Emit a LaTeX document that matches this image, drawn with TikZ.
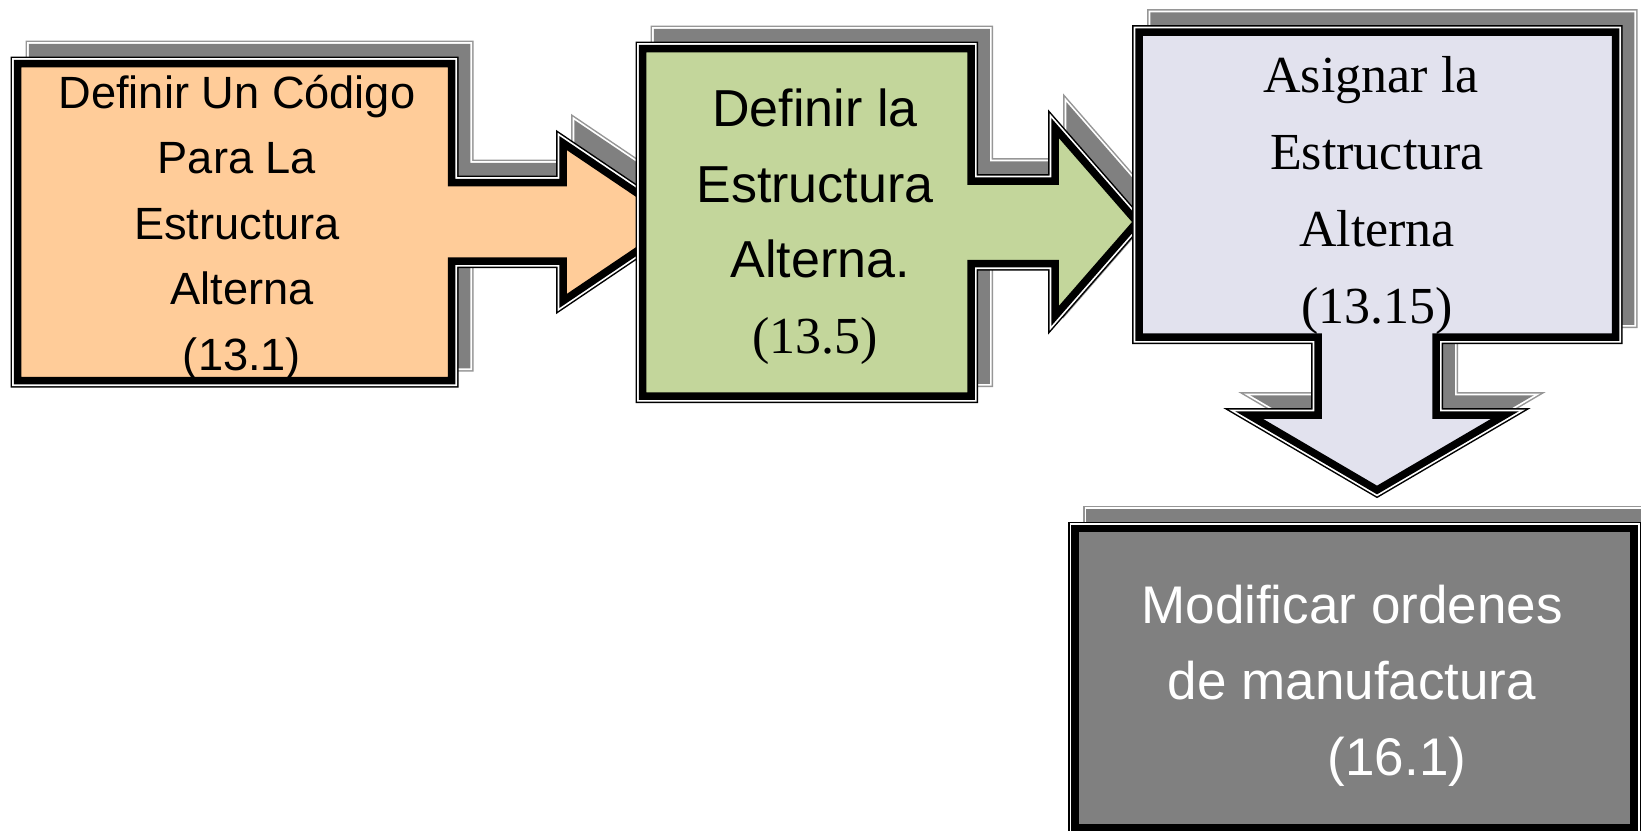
\documentclass[tikz,border=0pt]{standalone}
\usepackage{fontspec}
\setmainfont{Liberation Sans}
\newfontfamily\timesfont{Liberation Serif}

\definecolor{peach}{HTML}{FFCC99}
\definecolor{olivelight}{HTML}{C3D69B}
\definecolor{lavender}{RGB}{226,226,238}
\definecolor{boxgray}{HTML}{808080}
\definecolor{shadowgray}{HTML}{808080}
\definecolor{shadowline}{HTML}{969696}

% outlines of the four callout shapes (pixel grid, y pointing down)
\newcommand\calloutA{(17.5,63.5) -- (451.5,63.5) -- (451.5,182.5) -- (563,182.5) -- (563,143)
  -- (680,222) -- (563,301) -- (563,261) -- (451.5,261) -- (451.5,380.5) -- (17.5,380.5) -- cycle}
\newcommand\calloutB{(642.5,48.5) -- (971,48.5) -- (971,181) -- (1055,181) -- (1055,128)
  -- (1137,222) -- (1055,316) -- (1055,263.5) -- (971,263.5) -- (971,396) -- (642.5,396) -- cycle}
\newcommand\calloutC{(1139,32) -- (1615.5,32) -- (1615.5,337) -- (1436,337) -- (1436,415)
  -- (1505,415) -- (1377,490) -- (1249,415) -- (1318,415) -- (1318,337) -- (1139,337) -- cycle}
\newcommand\calloutD{(1075,528.5) -- (1634,528.5) -- (1634,828) -- (1075,828) -- cycle}

\tikzset{
  thickthin/.style={line join=miter, line width=3.75pt, draw=black,
    preaction={draw=black, line width=7pt, line join=miter},
    preaction={draw=white, line width=5.5pt, line join=miter}},
  shadowed/.style={line join=miter, line width=3.75pt, draw=shadowgray, fill=shadowgray,
    preaction={draw=shadowline, line width=7pt, line join=miter},
    preaction={draw=white, line width=5.5pt, line join=miter}},
  shadowshift/.style={shift={(15,-16)}},
  % anchored on the baseline of the last line
  boxtext/.style={align=center, anchor=base, inner sep=0pt},
}

\begin{document}
\begin{tikzpicture}[x=0.5pt, y=-0.5pt]
  \useasboundingbox (0,0) rectangle (1641,830);
  \fill[white] (0,0) rectangle (1641,830);

  % step 1
  \begin{scope}[shadowshift] \path[shadowed] \calloutA; \end{scope}
  \path[thickthin, fill=peach] \calloutA;

  % step 2
  \begin{scope}[shadowshift] \path[shadowed] \calloutB; \end{scope}
  \path[thickthin, fill=olivelight] \calloutB;

  % step 3
  \begin{scope}[shadowshift] \path[shadowed] \calloutC; \end{scope}
  \path[thickthin, fill=lavender] \calloutC;

  % step 4
  \begin{scope}[shadowshift] \path[shadowed] \calloutD; \end{scope}
  \path[thickthin, fill=boxgray] \calloutD;

  % labels
  \node[boxtext, font=\fontsize{22.6pt}{32.75pt}\selectfont] (t1) at (237,370)
    {Definir Un Código\\Para La\\Estructura\\\hspace*{5pt}Alterna\\\hspace*{5pt}(13.1)};
  \node[boxtext, font=\fontsize{26pt}{37.75pt}\selectfont] (t2) at (815,353)
    {Definir la\\Estructura\\\hspace*{5pt}Alterna.\\{\timesfont (13.5)}};
  \node[boxtext, font=\timesfont\fontsize{26pt}{38.5pt}\selectfont] (t3) at (1377,323)
    {Asignar la\hspace*{6pt}\\Estructura\\Alterna\\(13.15)};
  \node[boxtext, text=white, font=\fontsize{26.5pt}{38pt}\selectfont] (t4) at (1352,775)
    {Modificar ordenes\\de manufactura\\\hspace*{45pt}(16.1)};
\end{tikzpicture}
\end{document}
